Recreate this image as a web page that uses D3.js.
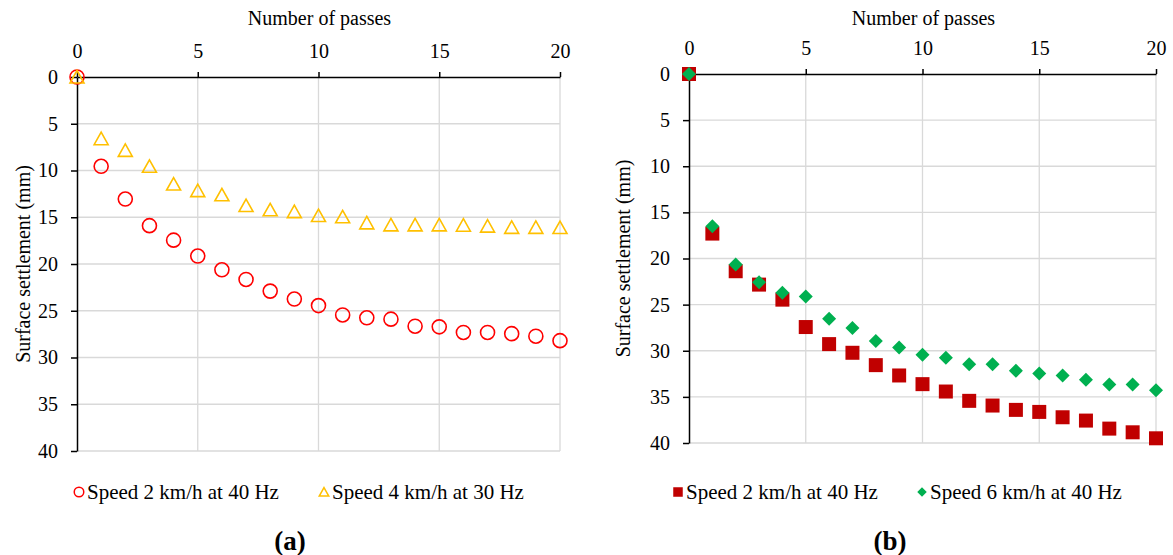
<!DOCTYPE html>
<html>
<head>
<meta charset="utf-8">
<script src="https://cdn.jsdelivr.net/npm/d3@7"></script>
<style>
  body { margin: 0; background: #fff; }
  svg text { font-family: "Liberation Serif", "Times New Roman", serif; fill: #000; }
  .axis path, .axis line { stroke: #000; stroke-width: 1.5; }
  .axis text { font-size: 20px; }
  .grid line { stroke: #d9d9d9; stroke-width: 1.3; }
</style>
</head>
<body>
<script>
const passes = d3.range(0, 21);

// panel (a)
const speed2at40a = [0, 9.55, 13.05, 15.9, 17.45, 19.15, 20.62, 21.65, 22.9, 23.75, 24.45,
  25.45, 25.75, 25.9, 26.65, 26.72, 27.32, 27.32, 27.45, 27.72, 28.2];
const speed4at30 = [0, 6.6, 7.85, 9.55, 11.45, 12.15, 12.6, 13.75, 14.2, 14.4, 14.82,
  14.95, 15.6, 15.82, 15.82, 15.82, 15.85, 15.95, 16.08, 16.08, 16.1];

// panel (b)
const speed2at40b = [0, 17.3, 21.38, 22.83, 24.46, 27.43, 29.28, 30.22, 31.56, 32.68, 33.62,
  34.42, 35.43, 35.94, 36.41, 36.63, 37.21, 37.57, 38.44, 38.84, 39.49];
const speed6at40 = [0, 16.5, 20.65, 22.57, 23.7, 24.13, 26.52, 27.54, 28.95, 29.64, 30.43,
  30.76, 31.45, 31.45, 32.17, 32.46, 32.68, 33.15, 33.66, 33.66, 34.28];

const xTicks = [0, 5, 10, 15, 20];
const yTicks = [0, 5, 10, 15, 20, 25, 30, 35, 40];

const width = 1173, height = 555;
const svg = d3.select("body").append("svg").attr("width", width).attr("height", height);

const circlePath = "M7,0A7,7 0 1,1 -7,0A7,7 0 1,1 7,0Z";
const trianglePath = "M0,-6.5L7,6L-7,6Z";
const squarePath = "M-7,-7H7V7H-7Z";
const diamondPath = "M0,-7L7,0L0,7L-7,0Z";

function panel(opt) {
  const x = d3.scaleLinear().domain([0, 20]).range([opt.left, opt.right]);
  const y = d3.scaleLinear().domain([0, 40]).range([opt.top, opt.bottom]);
  const g = svg.append("g");

  // gridlines
  g.append("g").attr("class", "grid")
    .selectAll("line.v").data(xTicks.slice(1)).enter().append("line")
    .attr("x1", d => x(d)).attr("x2", d => x(d))
    .attr("y1", opt.top).attr("y2", opt.bottom);
  g.append("g").attr("class", "grid")
    .selectAll("line.h").data(yTicks.slice(1)).enter().append("line")
    .attr("x1", opt.left).attr("x2", opt.right)
    .attr("y1", d => y(d)).attr("y2", d => y(d));

  g.append("g")
    .attr("class", "axis")
    .attr("transform", "translate(0," + opt.top + ")")
    .call(d3.axisTop(x).tickValues(xTicks).tickSize(5).tickSizeOuter(0).tickPadding(14))
    .attr("font-family", null);

  g.append("g")
    .attr("class", "axis")
    .attr("transform", "translate(" + opt.left + ",0)")
    .call(d3.axisLeft(y).tickValues(yTicks).tickSize(6).tickSizeOuter(0).tickPadding(13))
    .attr("font-family", null);

  g.append("text")
    .attr("x", (opt.left + opt.right) / 2 + 1).attr("y", 25)
    .attr("text-anchor", "middle").attr("font-size", 20)
    .text("Number of passes");

  g.append("text")
    .attr("transform", "translate(" + opt.ytitleX + "," + ((opt.top + opt.bottom) / 2) + ") rotate(-90)")
    .attr("text-anchor", "middle").attr("font-size", 20)
    .text("Surface settlement (mm)");

  opt.series.forEach(function(s) {
    g.append("g").selectAll("path")
      .data(s.values).enter().append("path")
      .attr("transform", (d, i) => "translate(" + x(passes[i]) + "," + y(d) + ")")
      .attr("d", s.shape)
      .attr("fill", s.fill)
      .attr("stroke", s.stroke)
      .attr("stroke-width", 1.6);
  });

  // legend
  opt.series.forEach(function(s) {
    const lg = g.append("g").attr("transform", "translate(" + s.lx + ",492)");
    lg.append("path").attr("d", s.shape).attr("transform", "scale(0.68)")
      .attr("fill", s.fill).attr("stroke", s.stroke).attr("stroke-width", 2.2);
    lg.append("text").attr("x", 8).attr("y", 7).attr("font-size", 21).text(s.name);
  });

  g.append("text")
    .attr("x", opt.labelX).attr("y", 550)
    .attr("text-anchor", "middle").attr("font-size", 27).attr("font-weight", "bold")
    .text(opt.label);
}

panel({
  left: 77, right: 560, top: 77, bottom: 451, ytitleX: 30, labelX: 290, label: "(a)",
  series: [
    { name: "Speed 2 km/h at 40 Hz", values: speed2at40a, shape: circlePath, fill: "none", stroke: "#ff0000", lx: 79 },
    { name: "Speed 4 km/h at 30 Hz", values: speed4at30, shape: trianglePath, fill: "none", stroke: "#ffc000", lx: 324 }
  ]
});

panel({
  left: 689, right: 1156, top: 74, bottom: 443, ytitleX: 630, labelX: 890, label: "(b)",
  series: [
    { name: "Speed 2 km/h at 40 Hz", values: speed2at40b, shape: squarePath, fill: "#c00000", stroke: "none", lx: 678 },
    { name: "Speed 6 km/h at 40 Hz", values: speed6at40, shape: diamondPath, fill: "#00b050", stroke: "none", lx: 922 }
  ]
});
</script>
</body>
</html>
